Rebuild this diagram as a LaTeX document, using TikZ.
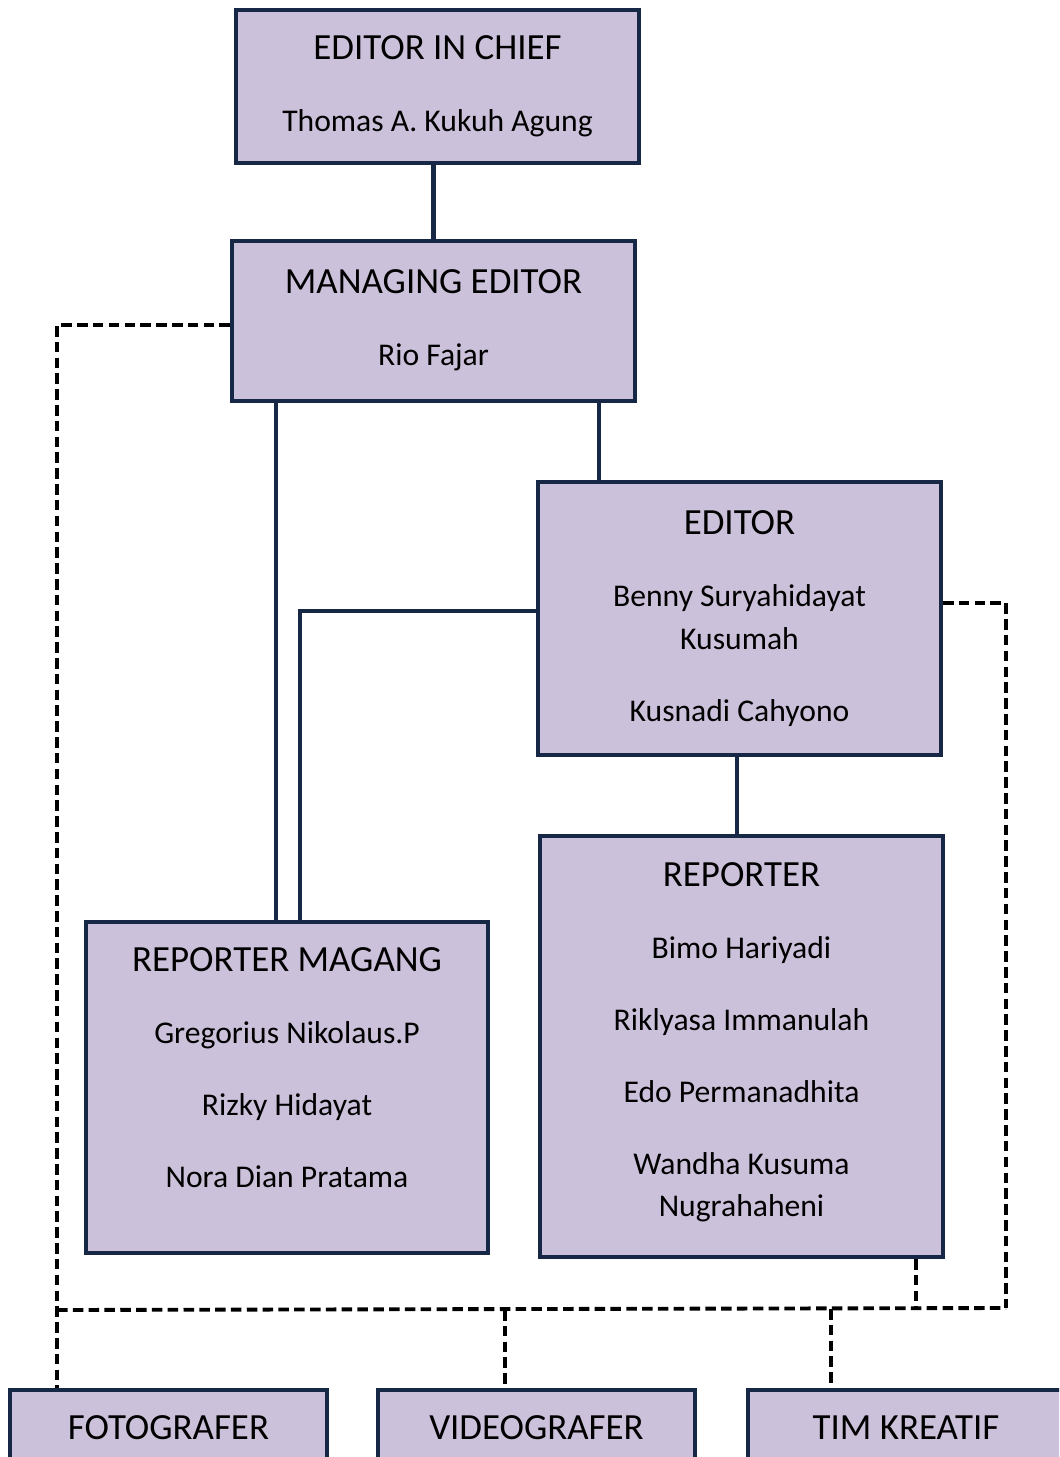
\documentclass[tikz,border=0pt]{standalone}
\usepackage{fontspec}
\setmainfont{Carlito}
\definecolor{isikotak}{RGB}{204,193,218}
\definecolor{garistepi}{RGB}{22,40,70}
\newcommand{\judul}[1]{{\fontsize{21}{25}\selectfont #1}}
\tikzset{
  kotak/.style={draw=garistepi, fill=isikotak, line width=2.3pt, align=center,
    inner sep=0pt, font=\fontsize{18}{24}\selectfont},
  ukuran/.style 2 args={minimum width=#1*0.02cm, minimum height=#2*0.02cm},
  garis/.style={draw=garistepi, line width=2.3pt},
  putus/.style={draw=black, line width=2.2pt, dash pattern=on 6pt off 3pt}
}
\begin{document}
\begin{tikzpicture}[x=0.02cm, y=-0.02cm]
\useasboundingbox (0,0) rectangle (1059,1457);
\clip (0,0) rectangle (1059,1457);

\node [kotak, ukuran={403}{153}] (eic) at (437.5,86.5)
  {\judul{EDITOR IN CHIEF}\\[17pt]Thomas A. Kukuh Agung};
\node [kotak, ukuran={403}{160}] (me) at (433.5,321)
  {\judul{MANAGING EDITOR}\\[17pt]Rio Fajar\\[-20pt]\mbox{}};
\node [kotak, ukuran={403}{273}] (ed) at (739.5,618.5)
  {\judul{EDITOR}\\[17pt]Benny Suryahidayat\\Kusumah\\[17pt]Kusnadi Cahyono};
\node [kotak, ukuran={403}{421}] (rep) at (741.5,1046.5)
  {\judul{REPORTER}\\[17pt]Bimo Hariyadi\\[17pt]Riklyasa Immanulah\\[17pt]Edo Permanadhita\\[17pt]Wandha Kusuma\\Nugrahaheni\\[-16pt]\mbox{}};
\node [kotak, ukuran={402}{331}] (rm) at (287,1087.5)
  {\judul{REPORTER MAGANG}\\[17pt]Gregorius Nikolaus.P\\[17pt]Rizky Hidayat\\[17pt]Nora Dian Pratama\\[-1pt]\mbox{}};
\node [kotak, ukuran={317}{76}] (foto) at (168.5,1428) {\judul{FOTOGRAFER}};
\node [kotak, ukuran={317}{76}] (vid) at (536.5,1428) {\judul{VIDEOGRAFER}};
\node [kotak, ukuran={316}{76}] (tim) at (906,1428) {\judul{TIM KREATIF}};

\coordinate (bawahkiri) at (57,1310);
\coordinate (bawahkanan) at (1006,1308);

\draw [garis] (me.north) -- (me.north |- eic.south);
\draw [garis] (me.south -| 276,0) -- (rm.north -| 276,0);
\draw [garis] (me.south -| 599,0) -- (ed.north -| 599,0);
\draw [garis] (ed.west |- 0,611) -| (rm.north -| 300,0);
\draw [garis] (ed.south -| 737,0) -- (rep.north -| 737,0);

\draw [putus] (me.west |- 0,325) -| (foto.north -| bawahkiri);
\draw [putus] (bawahkiri) -- (bawahkanan);
\draw [putus] (ed.east |- 0,603) -| (bawahkanan);
\draw [putus] (rep.south -| 916,0) -- (916,1309);
\draw [putus] (505,1310) -- (vid.north -| 505,0);
\draw [putus] (831,1309) -- (tim.north -| 831,0);
\end{tikzpicture}
\end{document}
